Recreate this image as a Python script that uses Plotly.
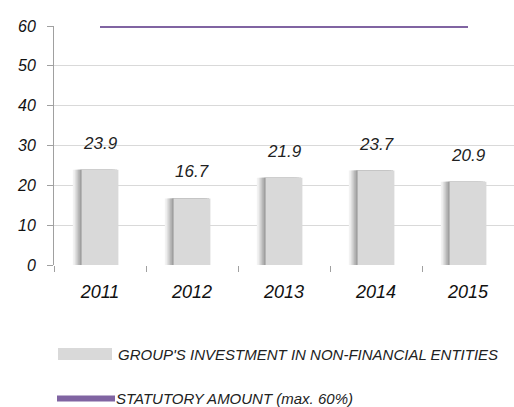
import plotly.graph_objects as go

# Chart data
years = ["2011", "2012", "2013", "2014", "2015"]
investment = [23.9, 16.7, 21.9, 23.7, 20.9]
statutory = [60, 60, 60, 60, 60]
y_ticks = [0, 10, 20, 30, 40, 50, 60]

bar_label = "GROUP'S INVESTMENT IN NON-FINANCIAL ENTITIES"
line_label = "STATUTORY AMOUNT (max. 60%)"

FONT = "Liberation Sans"
BAR_COLOR = "#d9d9d9"
LINE_COLOR = "#8064a2"
GRID_COLOR = "#d9d9d9"
AXIS_COLOR = "#a0a0a0"

W, H = 514, 407
ML, MR, MT, MB = 54, 0, 26, 142
PW, PH = W - ML - MR, H - MT - MB

BAR_W = 0.4
pos = list(range(len(years)))

fig = go.Figure()

# soft shadow along the left side of each column
for shift, col in [(0.095, "#f2f2f2"), (0.075, "#e0e0e0"), (0.055, "#c8c8c8"),
                   (0.035, "#b0b0b0"), (0.015, "#9c9c9c")]:
    fig.add_trace(go.Bar(
        x=pos, y=investment, width=BAR_W, offset=-BAR_W / 2 - shift,
        marker=dict(color=col, line=dict(width=0)),
        showlegend=False, hoverinfo="skip",
    ))

fig.add_trace(go.Bar(
    x=pos, y=investment, width=BAR_W, offset=-BAR_W / 2,
    marker=dict(color=BAR_COLOR, line=dict(width=0)),
    name=bar_label, showlegend=False,
))

fig.add_trace(go.Scatter(
    x=pos, y=statutory, mode="lines",
    line=dict(color=LINE_COLOR, width=4),
    cliponaxis=False, name=line_label, showlegend=False,
))

# value labels above the columns
for p, v in zip(pos, investment):
    fig.add_annotation(
        x=p, y=v, text=f"{v:.1f}", showarrow=False,
        yanchor="bottom", yshift=15,
        font=dict(family=FONT, size=17, color="#222222", style="italic"),
    )


def px_x(p):
    return (p - ML) / PW


def px_y(p):
    return (H - MB - p) / PH


# hand-drawn legend below the plot
fig.add_shape(type="rect", xref="paper", yref="paper",
              x0=px_x(58), x1=px_x(112), y0=px_y(360), y1=px_y(348),
              fillcolor=BAR_COLOR, line=dict(width=0))
fig.add_annotation(xref="paper", yref="paper", x=px_x(116), y=px_y(354),
                   xanchor="left", yanchor="middle", showarrow=False,
                   text=bar_label,
                   font=dict(family=FONT, size=15, color="#222222", style="italic"))
fig.add_shape(type="line", xref="paper", yref="paper",
              x0=px_x(57), x1=px_x(115), y0=px_y(398.5), y1=px_y(398.5),
              line=dict(color=LINE_COLOR, width=6))
fig.add_annotation(xref="paper", yref="paper", x=px_x(114), y=px_y(398.5),
                   xanchor="left", yanchor="middle", showarrow=False,
                   text=line_label,
                   font=dict(family=FONT, size=15, color="#222222", style="italic"))

fig.update_layout(
    width=W, height=H,
    margin=dict(l=ML, r=MR, t=MT, b=MB),
    paper_bgcolor="white", plot_bgcolor="white",
    barmode="overlay", showlegend=False,
    font=dict(family=FONT, color="#222222"),
    xaxis=dict(
        range=[-0.5, len(years) - 0.5],
        tickmode="array", tickvals=pos, ticktext=years,
        showgrid=False, showline=False, zeroline=False,
        ticks="", ticklabelstandoff=14,
        minor=dict(tickmode="linear", tick0=-0.5, dtick=1,
                   ticks="outside", ticklen=6, tickcolor=AXIS_COLOR, showgrid=False),
        tickfont=dict(family=FONT, size=18, color="#111111", style="italic"),
    ),
    yaxis=dict(
        range=[0, 60], tickvals=y_ticks,
        showgrid=True, gridcolor=GRID_COLOR, gridwidth=1,
        zeroline=True, zerolinecolor="white", zerolinewidth=1,
        showline=True, linecolor=AXIS_COLOR, linewidth=1,
        ticks="outside", ticklen=6, tickcolor=AXIS_COLOR, ticklabelstandoff=8,
        tickfont=dict(family=FONT, size=16, color="#111111", style="italic"),
    ),
)

fig.write_html("out.html")
